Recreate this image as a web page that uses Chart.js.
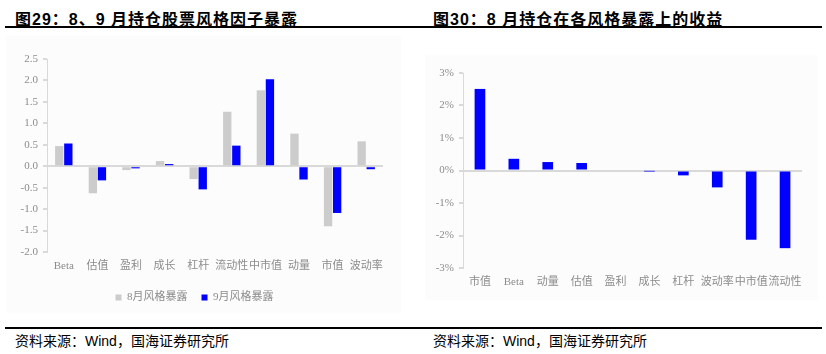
<!DOCTYPE html>
<html>
<head>
<meta charset="utf-8">
<script src="https://cdn.jsdelivr.net/npm/chart.js@4.4.0/dist/chart.umd.min.js"></script>
<style>
  body { margin: 0; width: 826px; height: 354px; background: #fff; position: relative; overflow: hidden; }
  .title { position: absolute; top: 6px; font: bold 16px "Liberation Sans", "Noto Sans CJK SC", sans-serif; color: #000; white-space: nowrap; letter-spacing: 1px; }
  .rule { position: absolute; left: 5px; width: 817px; height: 2px; background: #000; }
  .src { position: absolute; top: 330px; font: 14px "Liberation Sans", "Noto Sans CJK SC", sans-serif; color: #000; white-space: nowrap; }
  .box { position: absolute; background: #fcfcfc; }
</style>
</head>
<body>
<div class="title" style="left:15px">图29：8、9 月持仓股票风格因子暴露</div>
<div class="title" style="left:433px">图30：8 月持仓在各风格暴露上的收益</div>
<div class="rule" style="top:26px"></div>
<div class="rule" style="top:327px"></div>
<div class="src" style="left:15px">资料来源：Wind，国海证券研究所</div>
<div class="src" style="left:433px">资料来源：Wind，国海证券研究所</div>

<div class="box" style="left:6px;top:36px;width:395px;height:277px"><canvas id="left"></canvas></div>
<div class="box" style="left:425px;top:55px;width:393px;height:245px"><canvas id="right"></canvas></div>

<script>
// 图29 风格因子暴露
var factors = ['Beta', '估值', '盈利', '成长', '杠杆', '流动性', '中市值', '动量', '市值', '波动率'];
var aug = [0.47, -0.63, -0.09, 0.12, -0.30, 1.27, 1.77, 0.76, -1.40, 0.58];
var sep = [0.53, -0.33, -0.05, 0.05, -0.54, 0.48, 2.03, -0.31, -1.09, -0.07];

// 图30 各风格暴露上的收益 (%)
var retFactors = ['市值', 'Beta', '动量', '估值', '盈利', '成长', '杠杆', '波动率', '中市值', '流动性'];
var returns = [2.51, 0.36, 0.26, 0.23, 0.03, -0.01, -0.15, -0.52, -2.13, -2.39];

var labelFont = { family: '"Liberation Serif", "Noto Sans CJK SC", serif', size: 11 };
var gray = '#8c8c8c';
var lineGray = '#d9d9d9';

function yScale(min, max, step, width, fmt) {
  return {
    min: min, max: max,
    ticks: { stepSize: step, color: gray, font: labelFont, padding: 5, callback: fmt },
    grid: {
      color: c => (c.tick && c.tick.value === 0) ? lineGray : 'rgba(0,0,0,0)',
      lineWidth: 2,
      tickColor: lineGray, tickLength: 4, drawTicks: true
    },
    border: { display: true, color: lineGray, width: 1 },
    afterFit: s => { s.width = width; }
  };
}

function xScale(height) {
  return {
    ticks: { color: gray, font: labelFont, padding: 8, maxRotation: 0, autoSkip: false },
    grid: { display: false, drawTicks: false },
    border: { display: false },
    afterFit: s => { s.height = height; }
  };
}

new Chart(document.getElementById('left'), {
  type: 'bar',
  data: {
    labels: factors,
    datasets: [
      { label: '8月风格暴露', data: aug, backgroundColor: '#cccccc', categoryPercentage: 0.54, barPercentage: 0.92 },
      { label: '9月风格暴露', data: sep, backgroundColor: '#0000ff', categoryPercentage: 0.54, barPercentage: 0.92 }
    ]
  },
  options: {
    responsive: true,
    maintainAspectRatio: false,
    animation: false,
    layout: { padding: { left: 0, right: 18, top: 23, bottom: 0 } },
    scales: {
      x: xScale(26),
      y: yScale(-2, 2.5, 0.5, 41, v => v.toFixed(1))
    },
    plugins: {
      legend: {
        position: 'bottom',
        labels: { boxWidth: 6, boxHeight: 6, color: gray, font: labelFont, padding: 14 }
      },
      tooltip: { enabled: false }
    }
  }
});

new Chart(document.getElementById('right'), {
  type: 'bar',
  data: {
    labels: retFactors,
    datasets: [
      { label: '收益', data: returns, backgroundColor: '#0000ff', categoryPercentage: 0.63, barPercentage: 0.5 }
    ]
  },
  options: {
    responsive: true,
    maintainAspectRatio: false,
    animation: false,
    layout: { padding: { left: 0, right: 16, top: 18, bottom: 4 } },
    scales: {
      x: xScale(28),
      y: yScale(-3, 3, 1, 38, v => v + '%')
    },
    plugins: {
      legend: { display: false },
      tooltip: { enabled: false }
    }
  }
});
</script>
</body>
</html>
